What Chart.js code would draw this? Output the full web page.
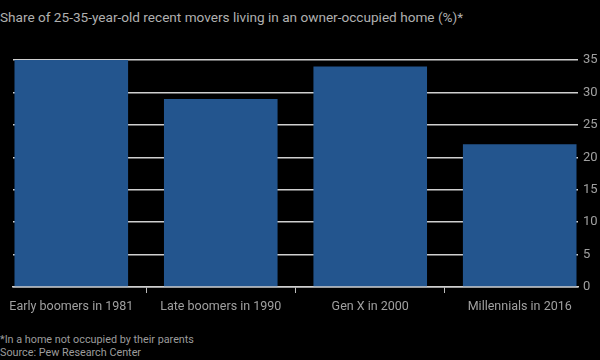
<!DOCTYPE html>
<html>
<head>
  <meta charset="UTF-8">
  <title>Owner-occupied homes by generation</title>
  <script src="https://cdn.jsdelivr.net/npm/chart.js"></script>
  <style>
    html, body {
      margin: 0;
      padding: 0;
      background: #000;
    }
    body {
      width: 600px;
      height: 360px;
      position: relative;
      overflow: hidden;
      font-family: Roboto, sans-serif;
      color: #a0a0a0;
    }
    .title {
      position: absolute;
      left: 0;
      top: 9px;
      font-size: 13.6px;
      color: #b0b0b0;
    }
    .notes {
      position: absolute;
      left: 0;
      top: 333px;
      font-size: 10.8px;
      line-height: 13px;
      color: #9c9c9c;
    }
    .wrap {
      position: absolute;
      left: 0;
      top: 0;
      width: 600px;
      height: 320px;
    }
  </style>
</head>
<body>

  <div class="title">Share of 25-35-year-old recent movers living in an owner-occupied home (%)*</div>
  <div class="wrap"><canvas id="chart"></canvas></div>
  <div class="notes">*In a home not occupied by their parents<br>Source: Pew Research Center</div>

  <script>
    const categories = ["Early boomers in 1981", "Late boomers in 1990", "Gen X in 2000", "Millennials in 2016"];
    const shares = [35, 29, 34, 22];
    const yTicks = [0, 5, 10, 15, 20, 25, 30, 35];

    // bars sit on a numeric x axis (0..3) so the outer bars can reach the gridline ends
    const points = shares.map((v, i) => ({ x: i, y: v }));

    new Chart(document.getElementById("chart"), {
      type: "bar",
      data: {
        datasets: [{
          label: "Share (%)",
          data: points,
          backgroundColor: "#23558e",
          barPercentage: 0.76,
          categoryPercentage: 1
        }]
      },
      options: {
        responsive: true,
        maintainAspectRatio: false,
        animation: false,
        layout: {
          padding: { left: 13, right: 0, top: 60, bottom: 0 }
        },
        plugins: {
          legend: { display: false },
          tooltip: { enabled: false }
        },
        scales: {
          x: {
            type: "linear",
            offset: false,
            min: -0.39,
            max: categories.length - 1 + 0.39,
            afterBuildTicks: axis => {
              axis.ticks = categories.map((c, i) => ({ value: i }));
            },
            grid: {
              drawOnChartArea: false,
              drawTicks: true,
              tickLength: 6,
              color: "#bdbdbd"
            },
            border: { display: true, color: "#cfcfcf", width: 1.5 },
            ticks: {
              color: "#a0a0a0",
              padding: 6,
              maxRotation: 0,
              autoSkip: false,
              font: { family: "Roboto", size: 12.5 },
              callback: v => categories[v]
            }
          },
          y: {
            position: "right",
            min: 0,
            max: 35,
            afterBuildTicks: axis => {
              axis.ticks = yTicks.map(v => ({ value: v }));
            },
            afterFit: axis => {
              axis.width = 22;
            },
            grid: {
              color: "#cfcfcf",
              lineWidth: 1.5,
              drawTicks: false
            },
            border: { display: false },
            ticks: {
              color: "#a0a0a0",
              padding: 5,
              font: { family: "Roboto", size: 13 }
            }
          }
        }
      }
    });
  </script>

</body>
</html>
